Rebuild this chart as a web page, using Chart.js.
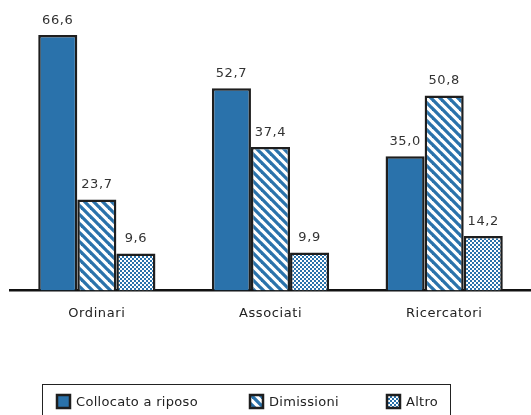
<!DOCTYPE html>
<html lang="it">
<head>
<meta charset="UTF-8">
<title>Cessazioni</title>
<script src="https://cdn.jsdelivr.net/npm/chart.js"></script>
<style>
  html, body { margin: 0; padding: 0; background: #fff; }
  #box { width: 531px; height: 415px; position: relative; }
</style>
</head>
<body>
<div id="box"><canvas id="grafico"></canvas></div>
<script>
var categorie = ['Ordinari', 'Associati', 'Ricercatori'];
var serie = ['Collocato a riposo', 'Dimissioni', 'Altro'];
var collocato = [66.6, 52.7, 35.0];
var dimissioni = [23.7, 37.4, 50.8];
var altro = [9.6, 9.9, 14.2];

var blu = '#2a72ab';
var bordo = '#1e1e1e';

function righe() {
    var n = 9;
    var c = document.createElement('canvas');
    c.width = n; c.height = n;
    var g = c.getContext('2d');
    g.fillStyle = '#fff';
    g.fillRect(0, 0, n, n);
    g.strokeStyle = blu;
    g.lineWidth = 3.3;
    for (var k = -n; k <= n; k += n) {
        g.beginPath();
        g.moveTo(k - 2, -2);
        g.lineTo(k + n + 2, n + 2);
        g.stroke();
    }
    return g.createPattern(c, 'repeat');
}

function scacchi() {
    var c = document.createElement('canvas');
    c.width = 4; c.height = 4;
    var g = c.getContext('2d');
    g.fillStyle = blu;
    g.fillRect(0, 0, 4, 4);
    g.fillStyle = '#fff';
    g.fillRect(0, 0, 2, 2);
    g.fillRect(2, 2, 2, 2);
    return g.createPattern(c, 'repeat');
}

var riempimenti = [blu, righe(), scacchi()];

var spaziatura = {
    id: 'spaziatura',
    beforeDraw: function (chart) {
        chart.ctx.letterSpacing = '0.6px';
    }
};

var etichette = {
    id: 'etichette',
    afterDatasetsDraw: function (chart) {
        var ctx = chart.ctx;
        ctx.save();
        ctx.font = '13px "DejaVu Sans"';
        ctx.fillStyle = '#333';
        ctx.textAlign = 'center';
        ctx.textBaseline = 'bottom';
        chart.data.datasets.forEach(function (ds, i) {
            chart.getDatasetMeta(i).data.forEach(function (bar, j) {
                ctx.fillText(ds.data[j].toFixed(1).replace('.', ','), bar.x, bar.y - 8);
            });
        });
        ctx.restore();
    }
};

var legenda = {
    id: 'legenda',
    afterDraw: function (chart) {
        var ctx = chart.ctx;
        var pos = [57, 250, 387];
        var y = 395;
        ctx.save();
        ctx.letterSpacing = '0.3px';
        ctx.strokeStyle = '#222';
        ctx.lineWidth = 1;
        ctx.strokeRect(42.5, 384.5, 408, 40);
        ctx.font = '13px "DejaVu Sans"';
        ctx.textBaseline = 'middle';
        chart.data.datasets.forEach(function (ds, i) {
            ctx.fillStyle = ds.backgroundColor;
            ctx.fillRect(pos[i], y, 13, 13);
            ctx.lineWidth = 2.5;
            ctx.strokeStyle = bordo;
            ctx.strokeRect(pos[i], y, 13, 13);
            ctx.fillStyle = '#222';
            ctx.fillText(ds.label, pos[i] + 19, y + 7.5);
        });
        ctx.restore();
    }
};

new Chart(document.getElementById('grafico'), {
    type: 'bar',
    data: {
        labels: categorie,
        datasets: [
            { label: serie[0], data: collocato, backgroundColor: riempimenti[0] },
            { label: serie[1], data: dimissioni, backgroundColor: riempimenti[1] },
            { label: serie[2], data: altro, backgroundColor: riempimenti[2] }
        ].map(function (d) {
            d.borderColor = bordo;
            d.borderWidth = 2.5;
            d.barPercentage = 1;
            d.categoryPercentage = 0.675;
            return d;
        })
    },
    options: {
        responsive: true,
        maintainAspectRatio: false,
        animation: false,
        layout: { padding: { left: 10, right: 0, top: 22, bottom: 79 } },
        plugins: { legend: { display: false }, tooltip: { enabled: false } },
        scales: {
            y: { display: false, min: 0, max: 70 },
            x: {
                grid: { display: false, drawTicks: false },
                border: { display: true, color: '#111', width: 2.5 },
                ticks: { color: '#222', padding: 15, font: { family: 'DejaVu Sans', size: 13 } }
            }
        }
    },
    plugins: [spaziatura, etichette, legenda]
});
</script>
</body>
</html>
